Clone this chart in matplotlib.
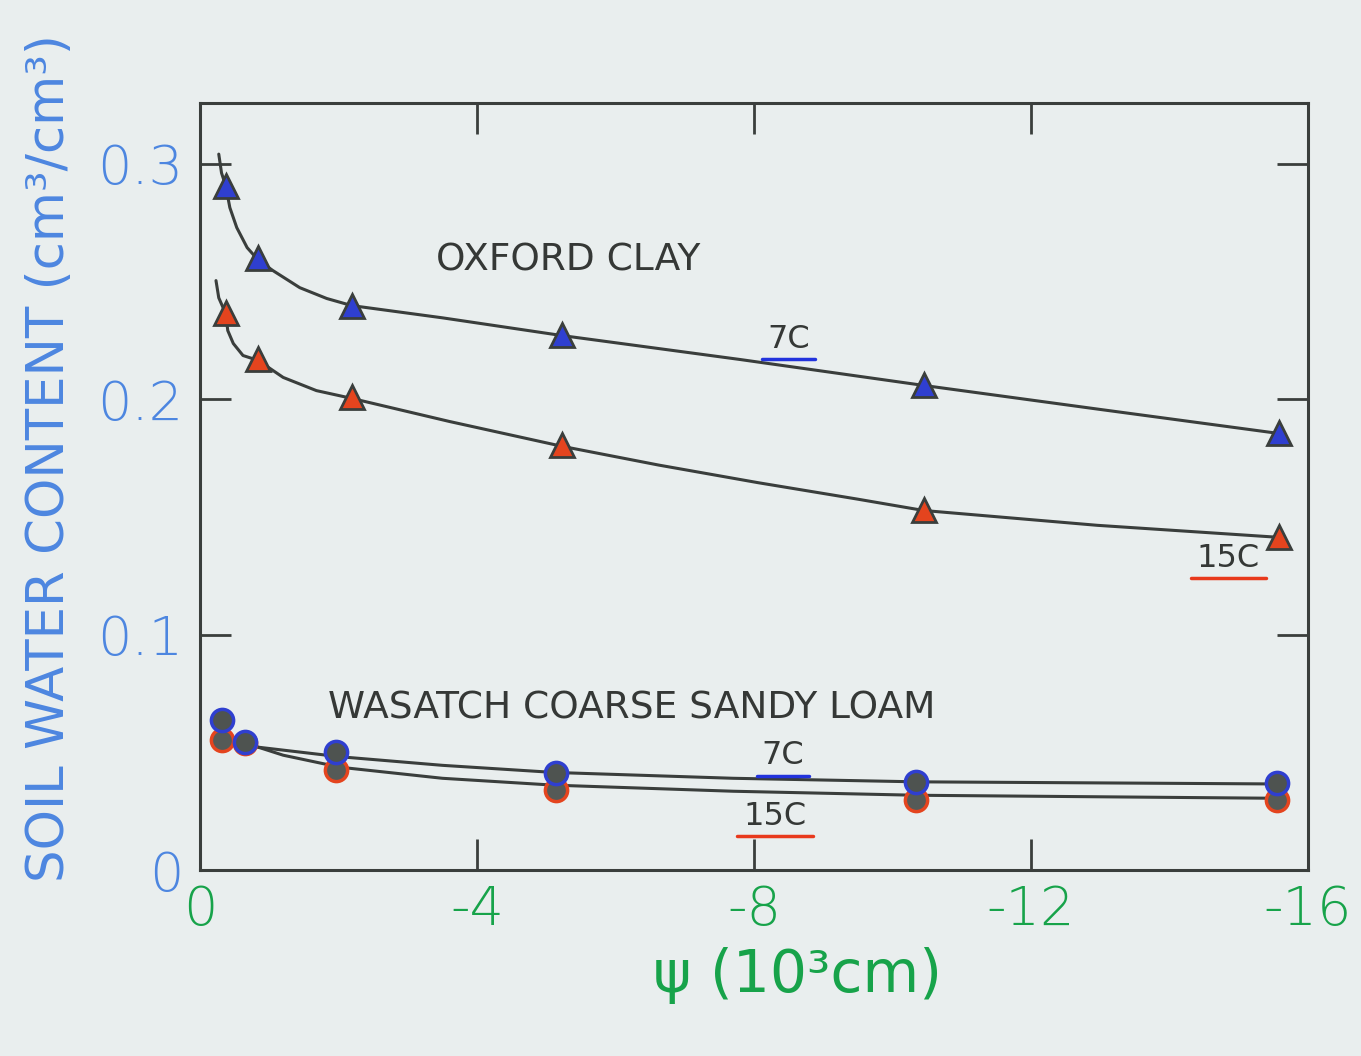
import numpy as np
import matplotlib.pyplot as plt

# measured points (psi in 10^3 cm, water content cm3/cm3)
clay_psi = [-0.37, -0.84, -2.19, -5.22, -10.45, -15.58]
clay_7c = [0.2906, 0.2600, 0.2397, 0.2270, 0.2058, 0.1854]
clay_15c = [0.2367, 0.2172, 0.2007, 0.1805, 0.1527, 0.1413]

sand_psi = [-0.32, -0.65, -1.97, -5.14, -10.34, -15.55]
sand_7c = [0.0636, 0.0543, 0.0500, 0.0411, 0.0373, 0.0369]
sand_15c = [0.0552, 0.0540, 0.0424, 0.0340, 0.0297, 0.0297]

# hand drawn fitted curves
clay_7c_curve_x = [-0.27, -0.31, -0.37, -0.43, -0.53, -0.68, -0.84, -1.05, -1.44, -1.83, -2.19,
                   -3.5, -5.22, -7.8, -10.45, -13.0, -15.58]
clay_7c_curve_y = [0.304, 0.296, 0.2906, 0.2813, 0.2728, 0.2643, 0.2590, 0.2546, 0.2473, 0.2427, 0.2397,
                   0.2345, 0.2270, 0.2168, 0.2058, 0.1956, 0.1854]
clay_15c_curve_x = [-0.23, -0.27, -0.37, -0.40, -0.48, -0.62, -0.84, -1.20, -1.68, -2.19,
                    -3.6, -5.22, -6.62, -8.06, -9.5, -10.45, -12.96, -15.58]
clay_15c_curve_y = [0.2503, 0.243, 0.2363, 0.2291, 0.2236, 0.2185, 0.2164, 0.2092, 0.2036, 0.2003,
                    0.1905, 0.1800, 0.1720, 0.1645, 0.1575, 0.1527, 0.1464, 0.1413]
sand_7c_curve_x = [-0.62, -0.84, -2.0, -3.5, -5.1, -7.7, -10.34, -15.5]
sand_7c_curve_y = [0.0543, 0.0522, 0.0482, 0.0445, 0.0415, 0.0390, 0.0375, 0.0366]
sand_15c_curve_x = [-0.62, -0.84, -1.2, -2.02, -3.5, -5.1, -7.7, -10.34, -15.6]
sand_15c_curve_y = [0.0543, 0.0522, 0.0488, 0.0437, 0.0390, 0.0361, 0.0335, 0.0318, 0.0305]

x_ticks = [0, -4, -8, -12, -16]
x_labels = ['0', '-4', '-8', '-12', '-16']
y_ticks = [0, 0.1, 0.2, 0.3]
y_labels = ['0', '0.1', '0.2', '0.3']

# temperature labels: text, x, y, underline colour
temp_labels = [('7C', -8.5, 0.2255, '#2233dd'),
               ('15C', -14.85, 0.1325, '#e8391c'),
               ('7C', -8.42, 0.0485, '#2233dd'),
               ('15C', -8.3, 0.0228, '#e8391c')]

bg = '#e9eeee'
ink = '#3a3e3c'
blue = '#2f3fd0'
red = '#e4441e'
pale_blue = '#4d86e0'
green = '#17a34a'

fig = plt.figure(figsize=(13.61, 10.56), dpi=100, facecolor=bg)
ax = fig.add_axes([0.147, 0.176, 0.814, 0.726], facecolor=bg)

for cx, cy in [(clay_7c_curve_x, clay_7c_curve_y), (clay_15c_curve_x, clay_15c_curve_y),
               (sand_7c_curve_x, sand_7c_curve_y), (sand_15c_curve_x, sand_15c_curve_y)]:
    ax.plot(cx, cy, color=ink, lw=2.2, solid_capstyle='round', solid_joinstyle='round')

ax.plot(clay_psi, clay_7c, ls='none', marker='^', ms=17, mfc=blue, mec=ink, mew=2)
ax.plot(clay_psi, clay_15c, ls='none', marker='^', ms=17, mfc=red, mec=ink, mew=2)
ax.plot(sand_psi, sand_15c, ls='none', marker='o', ms=16, mfc='#555a57', mec=red, mew=2.5)
ax.plot(sand_psi, sand_7c, ls='none', marker='o', ms=16, mfc='#4e5350', mec=blue, mew=2.5)

txt = dict(color='#353836', ha='center', va='center', family='DejaVu Sans')
ax.text(-5.32, 0.259, 'OXFORD CLAY', fontsize=27, **txt)
ax.text(-6.23, 0.0687, 'WASATCH COARSE SANDY LOAM', fontsize=27, **txt)
for s, x, y, c in temp_labels:
    ax.text(x, y, s, fontsize=23, **txt)
    half = 0.33 * len(s) / 2 + 0.05
    ax.plot([x - half, x + half], [y - 0.0085, y - 0.0085], color=c, lw=2.5, solid_capstyle='round')

ax.set_xlim(0, -15.95)
ax.set_ylim(0, 0.3255)
ax.set_xticks(x_ticks)
ax.set_xticklabels(x_labels)
ax.set_yticks(y_ticks)
ax.set_yticklabels(y_labels)
ax.tick_params(axis='both', direction='in', length=22, width=2, color=ink,
               top=True, right=True, labeltop=False, labelright=False)
ax.tick_params(axis='x', labelsize=39, labelcolor=green, pad=10)
ax.tick_params(axis='y', labelsize=39, labelcolor=pale_blue, pad=12)
for t in ax.get_xticklabels() + ax.get_yticklabels():
    t.set_fontweight('light')

# no tick marks where the ticks sit on the frame corners
for tk in [ax.xaxis.get_major_ticks()[0], ax.xaxis.get_major_ticks()[-1], ax.yaxis.get_major_ticks()[0]]:
    tk.tick1line.set_visible(False)
    tk.tick2line.set_visible(False)

for sp in ax.spines.values():
    sp.set_color(ink)
    sp.set_linewidth(2.2)

ax.set_xlabel('ψ (10³cm)', fontsize=42, color=green)
ax.xaxis.set_label_coords(0.539, -0.1)
ax.set_ylabel('SOIL WATER CONTENT (cm³/cm³)', fontsize=37, color=pale_blue)
ax.yaxis.set_label_coords(-0.113, 0.538)

fig.savefig('out.png', dpi=100, facecolor=bg)
